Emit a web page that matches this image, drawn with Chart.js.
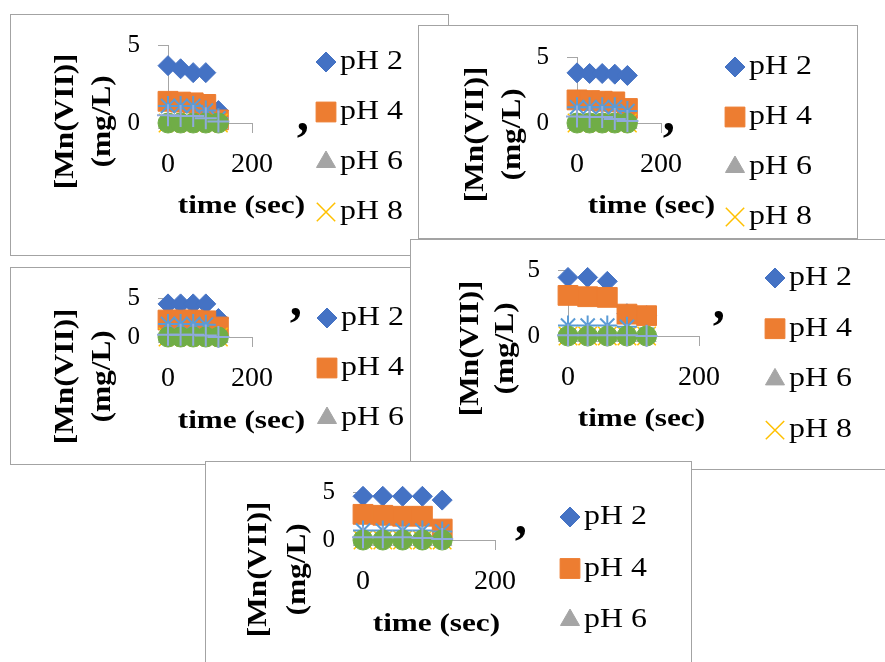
<!DOCTYPE html>
<html>
<head>
<meta charset="utf-8">
<script src="https://cdn.jsdelivr.net/npm/chart.js@4.4.1/dist/chart.umd.min.js"></script>
<style>
body { margin: 0; width: 885px; height: 662px; overflow: hidden; background: #fff; position: relative; }
.panel { position: absolute; box-sizing: border-box; border: 1px solid #a3a3a3; background: #fff; overflow: hidden; }
.panel canvas { position: absolute; left: 0; top: 0; }
</style>
</head>
<body>
<div class="panel" style="left:10px;top:14px;width:439px;height:242px"><canvas id="c1"></canvas></div>
<div class="panel" style="left:418px;top:25px;width:440px;height:214px"><canvas id="c2"></canvas></div>
<div class="panel" style="left:10px;top:267px;width:401px;height:198px"><canvas id="c3"></canvas></div>
<div class="panel" style="left:410px;top:239px;width:490px;height:231px"><canvas id="c4"></canvas></div>
<div class="panel" style="left:205px;top:461px;width:487px;height:240px"><canvas id="c5"></canvas></div>
<script>
// data
var times = [0, 30, 60, 90, 120];
var seriesNames = ['pH 2', 'pH 4', 'pH 6', 'pH 8', 'pH 10', 'pH 12', 'pH 14'];
var xTickValues = [0, 200];
var yTickValues = [0, 5];
var xTitle = 'time (sec)';
var yTitle = ['[Mn(VII)]', '(mg/L)'];

// figure 1
var f1_pH2  = [3.7, 3.5, 3.25, 3.25, 0.8];
var f1_pH4  = [1.4, 1.35, 1.3, 1.2, 0.2];
var f1_pH6  = [0, 0, 0, 0, 0];
var f1_pH8  = [0, 0, 0, 0, 0];
var f1_pH10 = [1.1, 1.1, 1.1, 0.8, 0.3];
var f1_pH12 = [0, 0, 0, 0, 0];
var f1_pH14 = [0.5, 0.45, 0.45, 0.3, 0.1];

// figure 2
var f2_pH2  = [3.8, 3.75, 3.75, 3.7, 3.6];
var f2_pH4  = [1.75, 1.7, 1.65, 1.6, 1.1];
var f2_pH6  = [0, 0, 0, 0, 0];
var f2_pH8  = [0, 0, 0, 0, 0];
var f2_pH10 = [1.2, 1.2, 1.2, 1.2, 0.9];
var f2_pH12 = [0, 0, 0, 0, 0];
var f2_pH14 = [0.5, 0.45, 0.45, 0.3, 0.15];

// figure 3
var f3_pH2  = [4.3, 4.3, 4.3, 4.3, 2.4];
var f3_pH4  = [2.2, 2.2, 2.2, 2.1, 1.3];
var f3_pH6  = [0, 0, 0, 0, 0];
var f3_pH8  = [0, 0, 0, 0, 0];
var f3_pH10 = [1.7, 1.7, 1.7, 1.6, 0];
var f3_pH12 = [0, 0, 0, 0, 0];
var f3_pH14 = [0.3, 0.3, 0.3, 0.2, 0];

// figure 4
var f4_pH2  = [4.47, 4.47, 4.17, 1.7, 1.55];
var f4_pH4  = [3.1, 3.0, 2.95, 1.67, 1.55];
var f4_pH6  = [0, 0, 0, 0, 0];
var f4_pH8  = [0, 0, 0, 0, 0];
var f4_pH10 = [0.8, 0.8, 0.8, 0.7, 0.1];
var f4_pH12 = [0, 0, 0, 0, 0];
var f4_pH14 = [0.05, 0.05, 0.05, 0.05, 0];

// figure 5
var f5_pH2  = [4.6, 4.6, 4.6, 4.6, 4.2];
var f5_pH4  = [2.7, 2.6, 2.5, 2.5, 1.15];
var f5_pH6  = [0, 0, 0, 0, 0];
var f5_pH8  = [0, 0, 0, 0, 0];
var f5_pH10 = [1.0, 1.0, 1.0, 1.0, 0.9];
var f5_pH12 = [0, 0, 0, 0, 0];
var f5_pH14 = [0.3, 0.3, 0.3, 0.2, 0.1];

// marker styles, same order as seriesNames
var markers = [
    { style: 'rectRot',  radius: 10, color: '#4472C4', width: 1 },
    { style: 'rect',     radius: 14, color: '#ED7D31', width: 1 },
    { style: 'triangle', radius: 11, color: '#A5A5A5', width: 1 },
    { style: 'crossRot', radius: 13, color: '#FFC000', width: 1.5 },
    { style: 'star',     radius: 10, color: '#5B9BD5', width: 2 },
    { style: 'circle',   radius: 10, color: '#70AD47', width: 1 },
    { style: 'cross',    radius: 11, color: '#8FAADC', width: 2 }
];

var serif = '"Liberation Serif", "Times New Roman", serif';

// draw text centred on its ink box
function inkText(ctx, t, x, y) {
    var m = ctx.measureText(t);
    var dx = (m.actualBoundingBoxLeft - m.actualBoundingBoxRight) / 2;
    var dy = (m.actualBoundingBoxAscent - m.actualBoundingBoxDescent) / 2;
    ctx.fillText(t, x + dx, y + dy);
}

// titles, stray mark and legend inside each canvas
var decor = {
    id: 'decor',
    afterDraw: function(chart, args, o) {
        var ctx = chart.ctx;
        ctx.save();
        ctx.fillStyle = '#000';
        ctx.textBaseline = 'alphabetic';
        ctx.textAlign = 'left';

        ctx.font = 'bold 28px ' + serif;
        yTitle.forEach(function(t, i) {
            ctx.save();
            ctx.translate(o.yTitleX[i], o.yTitleY);
            ctx.rotate(-Math.PI / 2);
            ctx.scale(1.12, 1);
            inkText(ctx, t, 0, 0);
            ctx.restore();
        });

        ctx.font = 'bold 26px ' + serif;
        ctx.save();
        ctx.translate(o.xTitle[0], o.xTitle[1]);
        ctx.scale(1.2, 1);
        inkText(ctx, xTitle, 0, 0);
        ctx.restore();

        ctx.font = 'bold 48px ' + serif;
        inkText(ctx, '\u2019', o.mark[0], o.mark[1]);

        ctx.font = '27px ' + serif;
        ctx.textBaseline = 'middle';
        for (var i = 0; i < o.legendCount; i++) {
            var y = o.legendY + i * o.legendStep;
            var m = markers[i];
            ctx.fillStyle = m.color;
            ctx.strokeStyle = m.color;
            ctx.lineWidth = m.width;
            Chart.helpers.drawPoint(ctx, { pointStyle: m.style, radius: m.radius, borderWidth: m.width, rotation: 0 }, o.legendX, y);
            ctx.fillStyle = '#000';
            ctx.save();
            ctx.translate(o.legendX + 14, y);
            ctx.scale(1.18, 1);
            ctx.fillText(chart.data.datasets[i].label, 0, 0);
            ctx.restore();
        }
        ctx.restore();
    }
};

function makeChart(id, w, h, area, values, deco) {
    var canvas = document.getElementById(id);
    canvas.width = w;
    canvas.height = h;
    var xAxisH = 60;
    var datasets = values.map(function(vals, i) {
        var m = markers[i];
        return {
            label: seriesNames[i],
            data: times.map(function(t, j) { return { x: t, y: vals[j] }; }),
            pointStyle: m.style,
            pointRadius: m.radius,
            pointBackgroundColor: m.color,
            pointBorderColor: m.color,
            pointBorderWidth: m.width,
            showLine: false,
            clip: false,
            order: values.length - i
        };
    });
    return new Chart(canvas, {
        type: 'scatter',
        data: { datasets: datasets },
        options: {
            responsive: false,
            animation: false,
            devicePixelRatio: 1,
            layout: {
                padding: { left: 0, top: area.top, right: w - area.right, bottom: h - area.bottom - xAxisH }
            },
            plugins: {
                legend: { display: false },
                tooltip: { enabled: false },
                decor: deco
            },
            scales: {
                x: {
                    type: 'linear',
                    min: 0, max: 200,
                    afterBuildTicks: function(s) { s.ticks = xTickValues.map(function(v) { return { value: v }; }); },
                    afterFit: function(s) { s.height = xAxisH; },
                    grid: { drawOnChartArea: false, color: '#A6A6A6', tickLength: 10 },
                    border: { color: '#A6A6A6', width: 1 },
                    ticks: { color: '#000', padding: 18, font: { family: serif, size: 28, lineHeight: 1 } }
                },
                y: {
                    type: 'linear',
                    min: 0, max: 5,
                    afterBuildTicks: function(s) { s.ticks = yTickValues.map(function(v) { return { value: v }; }); },
                    afterFit: function(s) { s.width = area.left; },
                    grid: { drawOnChartArea: false, color: '#A6A6A6', tickLength: 10 },
                    border: { color: '#A6A6A6', width: 1 },
                    ticks: { color: '#000', padding: 18, font: { family: serif, size: 25, lineHeight: 1 } }
                }
            }
        },
        plugins: [decor]
    });
}

makeChart('c1', 437, 240, { left: 157, right: 241, top: 29, bottom: 108 },
    [f1_pH2, f1_pH4, f1_pH6, f1_pH8, f1_pH10, f1_pH12, f1_pH14],
    { yTitleX: [55, 92], yTitleY: 106, xTitle: [230, 192], mark: [291, 115], legendX: 315, legendY: 47, legendStep: 50, legendCount: 4 });

makeChart('c2', 438, 212, { left: 158, right: 242, top: 31, bottom: 97 },
    [f2_pH2, f2_pH4, f2_pH6, f2_pH8, f2_pH10, f2_pH12, f2_pH14],
    { yTitleX: [57, 94], yTitleY: 108, xTitle: [232, 181], mark: [249, 104], legendX: 316, legendY: 41, legendStep: 50, legendCount: 4 });

makeChart('c3', 399, 196, { left: 157, right: 241, top: 30, bottom: 69 },
    [f3_pH2, f3_pH4, f3_pH6, f3_pH8, f3_pH10, f3_pH12, f3_pH14],
    { yTitleX: [55, 92], yTitleY: 108, xTitle: [230, 154], mark: [284, 47], legendX: 316, legendY: 50, legendStep: 50, legendCount: 3 });

makeChart('c4', 488, 229, { left: 157, right: 288, top: 30, bottom: 96 },
    [f4_pH2, f4_pH4, f4_pH6, f4_pH8, f4_pH10, f4_pH12, f4_pH14],
    { yTitleX: [60, 95], yTitleY: 108, xTitle: [230, 180], mark: [307, 78], legendX: 364, legendY: 38, legendStep: 50.7, legendCount: 4 });

makeChart('c5', 485, 238, { left: 157, right: 289, top: 29, bottom: 78 },
    [f5_pH2, f5_pH4, f5_pH6, f5_pH8, f5_pH10, f5_pH12, f5_pH14],
    { yTitleX: [53, 92], yTitleY: 107, xTitle: [230, 163], mark: [314, 71], legendX: 364, legendY: 55, legendStep: 51.5, legendCount: 3 });
</script>
</body>
</html>
